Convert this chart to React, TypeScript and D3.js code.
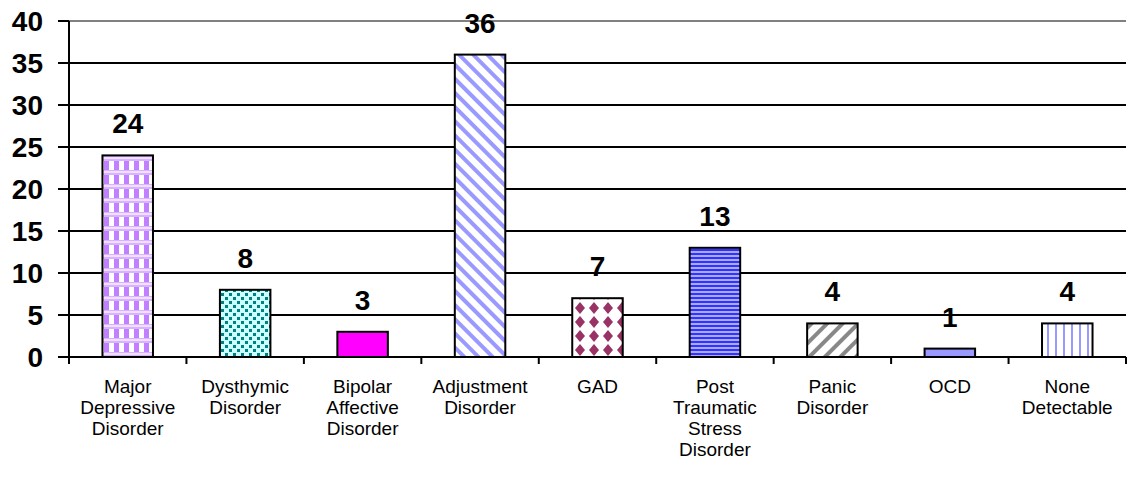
import React, { useEffect, useRef } from 'react';
import * as d3 from 'd3';

const categories = [
  ['Major', 'Depressive', 'Disorder'],
  ['Dysthymic', 'Disorder'],
  ['Bipolar', 'Affective', 'Disorder'],
  ['Adjustment', 'Disorder'],
  ['GAD'],
  ['Post', 'Traumatic', 'Stress', 'Disorder'],
  ['Panic', 'Disorder'],
  ['OCD'],
  ['None', 'Detectable'],
];
const values = [24, 8, 3, 36, 7, 13, 4, 1, 4];
const yTicks = [0, 5, 10, 15, 20, 25, 30, 35, 40];
const fills = ['url(#p0)', 'url(#p1)', '#ff00ff', 'url(#p3)', 'url(#p4)', 'url(#p5)', 'url(#p6)', '#9999ff', 'url(#p8)'];

const W = 1136;
const H = 484;
const M = { top: 21, right: 10, bottom: 127, left: 69 };
const FONT = 'Liberation Sans, Arial, sans-serif';

const App: React.FC = () => {
  const svgRef = useRef<SVGSVGElement>(null);

  useEffect(() => {
    const svg = d3.select(svgRef.current);
    svg.selectAll('*').remove();

    const cw = W - M.left - M.right;
    const ch = H - M.top - M.bottom;

    const defs = svg.append('defs');
    // checker lavender
    const p0 = defs.append('pattern').attr('id', 'p0').attr('patternUnits', 'userSpaceOnUse').attr('width', 10).attr('height', 14);
    p0.append('rect').attr('width', 10).attr('height', 14).attr('fill', '#d9b3ff');
    p0.append('rect').attr('x', 0).attr('y', 0).attr('width', 5).attr('height', 9).attr('fill', '#ffffff');
    p0.append('rect').attr('x', 5).attr('y', 0).attr('width', 5).attr('height', 9).attr('fill', '#c080ff');
    p0.append('rect').attr('x', 0).attr('y', 10).attr('width', 10).attr('height', 2).attr('fill', '#f0e0ff');
    // teal dots
    const p1 = defs.append('pattern').attr('id', 'p1').attr('patternUnits', 'userSpaceOnUse').attr('width', 8).attr('height', 8);
    p1.append('rect').attr('width', 8).attr('height', 8).attr('fill', '#ccffff');
    p1.append('rect').attr('x', 0).attr('y', 0).attr('width', 3).attr('height', 3).attr('fill', '#008080');
    p1.append('rect').attr('x', 4).attr('y', 4).attr('width', 3).attr('height', 3).attr('fill', '#008080');
    // diagonal "\" blue
    const p3 = defs.append('pattern').attr('id', 'p3').attr('patternUnits', 'userSpaceOnUse').attr('width', 10).attr('height', 10).attr('patternTransform', 'rotate(-45)');
    p3.append('rect').attr('width', 10).attr('height', 10).attr('fill', '#ffffff');
    p3.append('rect').attr('x', 0).attr('width', 4).attr('height', 10).attr('fill', '#9999ff');
    // diamonds
    const p4 = defs.append('pattern').attr('id', 'p4').attr('patternUnits', 'userSpaceOnUse').attr('width', 14).attr('height', 14);
    p4.append('rect').attr('width', 14).attr('height', 14).attr('fill', '#ffffff');
    p4.append('path').attr('d', 'M7,1 L12,7 L7,13 L2,7 Z').attr('fill', '#993366');
    // horizontal stripes
    const p5 = defs.append('pattern').attr('id', 'p5').attr('patternUnits', 'userSpaceOnUse').attr('width', 4).attr('height', 4);
    p5.append('rect').attr('width', 4).attr('height', 4).attr('fill', '#aaaaff');
    p5.append('rect').attr('y', 0).attr('width', 4).attr('height', 2).attr('fill', '#3333ff');
    // diagonal "/" gray
    const p6 = defs.append('pattern').attr('id', 'p6').attr('patternUnits', 'userSpaceOnUse').attr('width', 11).attr('height', 11).attr('patternTransform', 'rotate(45)');
    p6.append('rect').attr('width', 11).attr('height', 11).attr('fill', '#ffffff');
    p6.append('rect').attr('width', 4).attr('height', 11).attr('fill', '#888888');
    // vertical stripes
    const p8 = defs.append('pattern').attr('id', 'p8').attr('patternUnits', 'userSpaceOnUse').attr('width', 8).attr('height', 8);
    p8.append('rect').attr('width', 8).attr('height', 8).attr('fill', '#ffffff');
    p8.append('rect').attr('x', 2).attr('width', 2).attr('height', 8).attr('fill', '#9999ff');

    const g = svg.append('g').attr('transform', `translate(${M.left},${M.top})`);

    const x = d3.scaleBand<number>().domain(d3.range(categories.length)).range([0, cw]).paddingInner(0.57).paddingOuter(0.285);
    const y = d3.scaleLinear().domain([0, 40]).range([ch, 0]);

    // gridlines
    g.selectAll('.grid')
      .data(yTicks.filter(t => t > 0))
      .enter().append('line')
      .attr('x1', 0).attr('x2', cw)
      .attr('y1', d => y(d)).attr('y2', d => y(d))
      .attr('stroke', d => (d === 40 ? '#808080' : '#000'))
      .attr('stroke-width', 2);

    // bars
    g.selectAll('.bar')
      .data(values)
      .enter().append('rect')
      .attr('x', (_, i) => x(i)!)
      .attr('y', d => y(d))
      .attr('width', x.bandwidth())
      .attr('height', d => ch - y(d))
      .attr('fill', (_, i) => fills[i])
      .attr('stroke', '#000')
      .attr('stroke-width', 2);

    // value labels
    g.selectAll('.val')
      .data(values)
      .enter().append('text')
      .attr('x', (_, i) => x(i)! + x.bandwidth() / 2)
      .attr('y', d => y(d) - 22)
      .attr('text-anchor', 'middle')
      .style('font-family', FONT)
      .style('font-size', '28px')
      .style('font-weight', 'bold')
      .text(d => d);

    // axes
    g.append('line').attr('x1', 0).attr('x2', 0).attr('y1', 0).attr('y2', ch).attr('stroke', '#000').attr('stroke-width', 2);
    g.append('line').attr('x1', -1).attr('x2', cw).attr('y1', ch).attr('y2', ch).attr('stroke', '#000').attr('stroke-width', 2);

    g.selectAll('.ytick')
      .data(yTicks)
      .enter().append('line')
      .attr('x1', -11).attr('x2', 0)
      .attr('y1', d => y(d)).attr('y2', d => y(d))
      .attr('stroke', '#000').attr('stroke-width', 2);

    g.selectAll('.ylab')
      .data(yTicks)
      .enter().append('text')
      .attr('x', -26)
      .attr('y', d => y(d))
      .attr('dy', '0.36em')
      .attr('text-anchor', 'end')
      .style('font-family', FONT)
      .style('font-size', '28px')
      .style('font-weight', 'bold')
      .text(d => d);

    const step = x.step();
    g.selectAll('.xtick')
      .data(d3.range(categories.length + 1))
      .enter().append('line')
      .attr('x1', i => i * step).attr('x2', i => i * step)
      .attr('y1', ch).attr('y2', ch + 7)
      .attr('stroke', '#000').attr('stroke-width', 2);

    const labels = g.selectAll('.xlab')
      .data(categories)
      .enter().append('text')
      .attr('text-anchor', 'middle')
      .style('font-family', FONT)
      .style('font-size', '19px');
    labels.each(function (lines, i) {
      const t = d3.select(this);
      lines.forEach((ln, k) => {
        t.append('tspan')
          .attr('x', x(i)! + x.bandwidth() / 2)
          .attr('y', ch + 36 + k * 21)
          .text(ln);
      });
    });
  }, []);

  return <svg ref={svgRef} width={W} height={H} style={{ display: 'block', position: 'absolute', left: 0, top: 0, background: '#fff' }}></svg>;
};

export default App;
